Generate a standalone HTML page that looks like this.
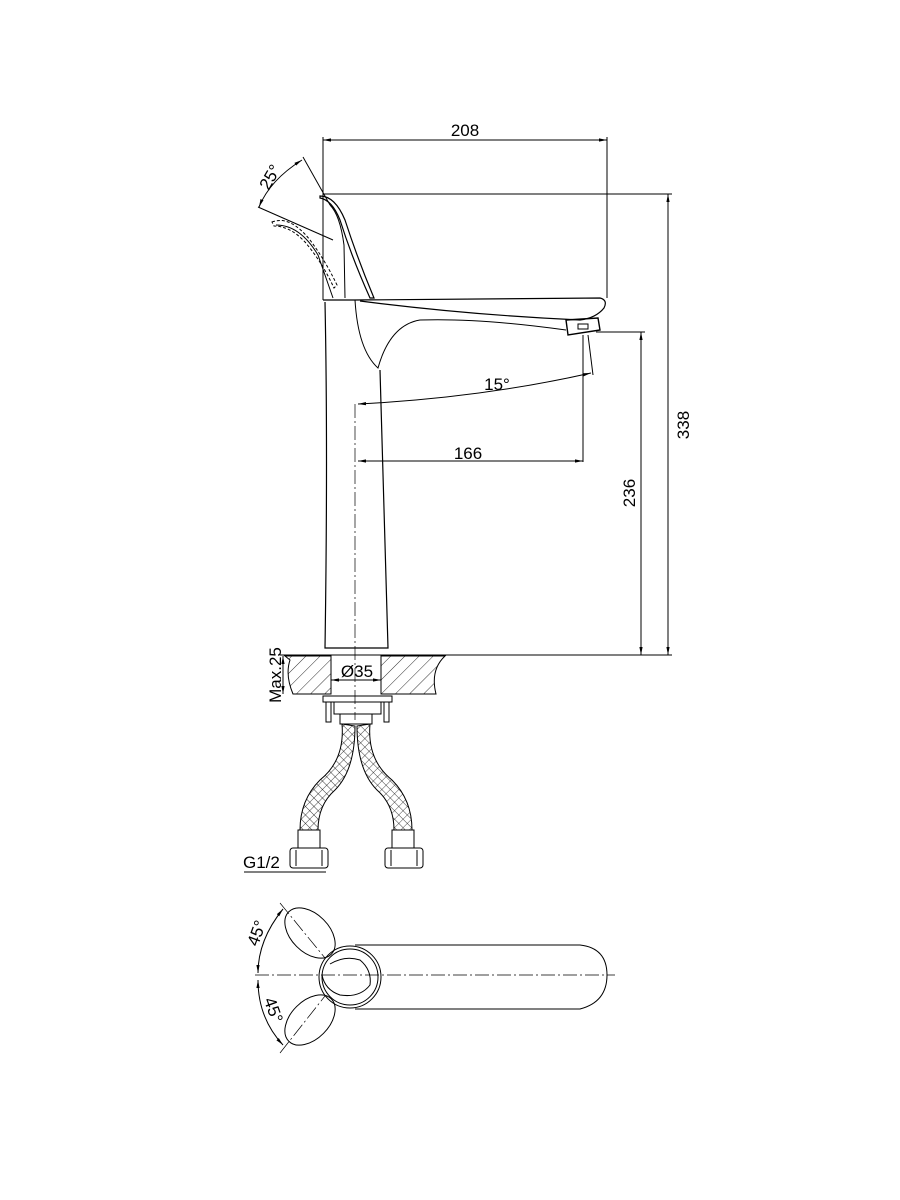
<!DOCTYPE html>
<html><head><meta charset="utf-8"><style>html,body{margin:0;padding:0;background:#fff}svg{display:block}</style></head>
<body>
<svg width="900" height="1200" viewBox="0 0 900 1200" xmlns="http://www.w3.org/2000/svg" font-family="Liberation Sans, sans-serif" fill="none" stroke="#000" stroke-width="1">
<defs>
<marker id="a" viewBox="0 0 10 10" refX="10" refY="5" markerWidth="8" markerHeight="8" orient="auto-start-reverse"><path d="M0,3 L10,5 L0,7" fill="#000" stroke="none"/></marker>
<pattern id="h" width="10" height="10" patternUnits="userSpaceOnUse" patternTransform="rotate(45)"><line x1="0" y1="0" x2="0" y2="10" stroke="#000" stroke-width="0.8"/></pattern>
<pattern id="x" width="6" height="6" patternUnits="userSpaceOnUse" patternTransform="rotate(45)"><path d="M0,0V6M0,0H6" stroke="#000" stroke-width="0.7"/></pattern>
</defs>
<line x1="323" y1="137" x2="323" y2="300"/>
<line x1="607" y1="137" x2="607" y2="298"/>
<line x1="323" y1="140" x2="607" y2="140" marker-start="url(#a)" marker-end="url(#a)"/>
<text x="465" y="136" font-size="17" fill="#000" stroke="none" text-anchor="middle">208</text>
<line x1="323" y1="194" x2="672" y2="194"/>
<line x1="668" y1="194" x2="668" y2="655" marker-start="url(#a)" marker-end="url(#a)"/>
<text transform="translate(689,425) rotate(-90)" font-size="17" fill="#000" stroke="none" text-anchor="middle">338</text>
<line x1="596" y1="332" x2="645" y2="332"/>
<line x1="641" y1="332" x2="641" y2="655" marker-start="url(#a)" marker-end="url(#a)"/>
<text transform="translate(635,493) rotate(-90)" font-size="17" fill="#000" stroke="none" text-anchor="middle">236</text>
<line x1="280" y1="655" x2="672" y2="655"/>
<line x1="303" y1="157" x2="330" y2="205"/>
<path d="M302,160 Q270,180 259,207" marker-start="url(#a)" marker-end="url(#a)"/>
<line x1="258" y1="207" x2="333" y2="240"/>
<text transform="translate(275,180) rotate(-60)" font-size="17" fill="#000" stroke="none" text-anchor="middle">25°</text>
<path d="M320,196 Q335,196 345,220 Q358,260 374,298 L370,298 Q352,258 340,220 Q332,200 320,198 Z" stroke-width="1.2"/>
<path d="M345,298 L344,245 Q340,215 330,205"/>
<path d="M272,222 Q290,215 310,240 Q325,260 337,285 L334,288 Q322,262 305,242 Q290,226 274,226 Z" stroke-dasharray="3,2"/>
<path d="M276,225 Q300,225 318,255 L333,298"/>
<path d="M323,300 L355,300 L600,298 Q608,300 604,308 Q596,318 580,320 Q470,315 360,301" stroke-width="1.2"/>
<path d="M355,300 Q358,350 378,368 Q390,325 420,320 Q480,318 566,330"/>
<path d="M566,320 L598,318 L600,330 L568,335 Z" stroke-width="1.4"/>
<rect x="578" y="324" width="10" height="5"/>
<path d="M325,302 Q328,450 325,648 L388,648 Q382,450 380,370" stroke-width="1.2"/>
<line x1="355" y1="404" x2="355" y2="720" stroke-dasharray="14,3,2,3" stroke-width="0.7"/>
<line x1="583" y1="335" x2="583" y2="462"/>
<line x1="588" y1="335" x2="593" y2="375"/>
<path d="M358,404 Q480,398 591,373" marker-start="url(#a)" marker-end="url(#a)"/>
<text x="497" y="390" font-size="17" fill="#000" stroke="none" text-anchor="middle">15°</text>
<line x1="358" y1="461" x2="583" y2="461" marker-start="url(#a)" marker-end="url(#a)"/>
<text x="468" y="459" font-size="17" fill="#000" stroke="none" text-anchor="middle">166</text>
<path d="M285,656 L331,656 L331,694 L293,694 Q285,675 290,660 Z M381,656 L445,656 Q430,670 436,694 L381,694 Z" fill="url(#h)"/>
<line x1="331" y1="656" x2="331" y2="694"/><line x1="381" y1="656" x2="381" y2="694"/>
<line x1="331" y1="680" x2="381" y2="680" marker-start="url(#a)" marker-end="url(#a)"/>
<text x="357" y="677" font-size="17" fill="#000" stroke="none" text-anchor="middle">Ø35</text>
<line x1="283" y1="656" x2="283" y2="694" marker-start="url(#a)" marker-end="url(#a)"/>
<text transform="translate(281,675) rotate(-90)" font-size="17" fill="#000" stroke="none" text-anchor="middle">Max.25</text>
<rect x="323" y="696" width="69" height="6"/>
<rect x="334" y="702" width="47" height="12"/>
<rect x="326" y="702" width="5" height="20"/><rect x="384" y="702" width="5" height="20"/>
<rect x="340" y="714" width="32" height="10"/>
<path d="M342,724 Q345,760 320,780 Q300,800 300,830 L318,830 Q318,805 335,790 Q355,770 355,726 Z" fill="url(#x)"/>
<path d="M370,724 Q367,760 392,780 Q412,800 412,830 L394,830 Q394,805 377,790 Q357,770 357,726 Z" fill="url(#x)"/>
<rect x="298" y="830" width="22" height="18"/><rect x="392" y="830" width="22" height="18"/>
<rect x="290" y="848" width="38" height="20" rx="3"/><rect x="385" y="848" width="38" height="20" rx="3"/>
<line x1="296" y1="850" x2="296" y2="866"/><line x1="322" y1="850" x2="322" y2="866"/>
<line x1="391" y1="850" x2="391" y2="866"/><line x1="417" y1="850" x2="417" y2="866"/>
<line x1="244" y1="872" x2="326" y2="872"/>
<text x="243" y="868" font-size="17" fill="#000" stroke="none">G1/2</text>
<line x1="255" y1="975" x2="615" y2="975" stroke-dasharray="14,3,2,3" stroke-width="0.7"/>
<path d="M355,945 L580,945 Q607,948 607,975 Q607,1002 580,1009 L355,1009"/>
<circle cx="350" cy="977" r="31"/>
<circle cx="350" cy="977" r="28"/>
<path d="M330,964 Q345,955 360,960 Q372,970 370,985 Q360,998 340,995 Q325,990 322,975"/>
<ellipse cx="310" cy="933" rx="30" ry="19" transform="rotate(45 310 933)"/>
<ellipse cx="310" cy="1020" rx="30" ry="19" transform="rotate(-45 310 1020)"/>
<line x1="280" y1="903" x2="325" y2="958" stroke-dasharray="14,3,2,3" stroke-width="0.7"/>
<line x1="280" y1="1053" x2="325" y2="996" stroke-dasharray="14,3,2,3" stroke-width="0.7"/>
<path d="M283,909 Q258,940 258,973" marker-start="url(#a)" marker-end="url(#a)"/>
<path d="M258,980 Q258,1018 283,1045" marker-start="url(#a)" marker-end="url(#a)"/>
<text transform="translate(262,935) rotate(-70)" font-size="17" fill="#000" stroke="none" text-anchor="middle">45°</text>
<text transform="translate(268,1012) rotate(70)" font-size="17" fill="#000" stroke="none" text-anchor="middle">45°</text>
</svg>
</body></html>
